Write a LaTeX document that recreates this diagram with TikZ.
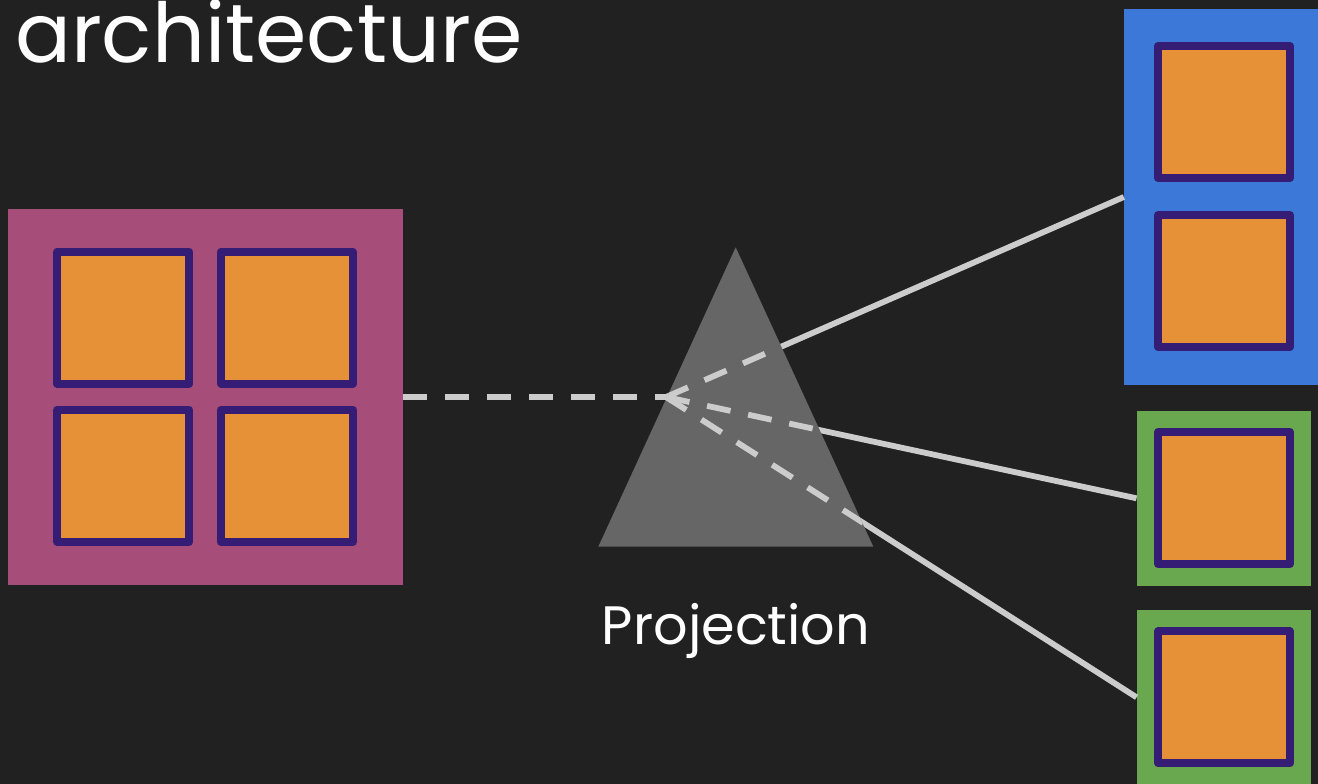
\documentclass[tikz,border=0pt]{standalone}
\usepackage{fontspec}
\setmainfont{Poppins}
\definecolor{bgc}{HTML}{212121}
\definecolor{pinkc}{HTML}{A64D79}
\definecolor{orangec}{HTML}{E69138}
\definecolor{purplec}{HTML}{351C75}
\definecolor{bluec}{HTML}{3C78D8}
\definecolor{greenc}{HTML}{6AA84F}
\definecolor{prismc}{HTML}{666666}
\definecolor{rayc}{HTML}{CCCCCC}
\tikzset{
  panel/.style={rectangle, inner sep=0pt, draw=none},
  cell/.style={rectangle, inner sep=0pt, draw=purplec, fill=orangec, line width=8pt, line join=round, minimum size=132pt},
  ray/.style={draw=rayc, line width=5.8pt, line cap=butt},
  raydash/.style={ray, dash pattern=on 24pt off 18pt},
  label/.style={text=white, inner sep=0pt}
}
\begin{document}
\begin{tikzpicture}[x=1pt,y=-1pt]
\useasboundingbox (0,0) rectangle (1318,784);
\fill[bgc] (0,0) rectangle (1318,784);
\begin{scope}
\clip (0,0) rectangle (1318,784);
% input panel
\node[panel, fill=pinkc, minimum width=395pt, minimum height=376pt] (in) at (205.5,397) {};
\node[cell] (c11) at (123.3,317.7) {};
\node[cell] (c12) at (287,317.7) {};
\node[cell] (c21) at (123.3,475.8) {};
\node[cell] (c22) at (287,475.8) {};
% output panels
\node[panel, fill=bluec, minimum width=200pt, minimum height=376pt] (out1) at (1224,197) {};
\node[cell] (b1) at (1224,112) {};
\node[cell] (b2) at (1224,281.3) {};
\node[panel, fill=greenc, minimum width=174.3pt, minimum height=174.7pt] (out2) at (1223.9,498.3) {};
\node[cell] (g1) at (1224,498) {};
\node[panel, fill=greenc, minimum width=174.3pt, minimum height=174.7pt] (out3) at (1223.9,697.3) {};
\node[cell] (g2) at (1224,697.3) {};
% rays
\coordinate (P) at (666,397);
\draw[raydash] (in.east) -- (P);
\draw[ray] (P) -- (out1.west);
\draw[ray] (P) -- (out2.west);
\draw[ray] (P) -- (out3.west);
% prism
\coordinate (A) at (735.7,247.3);
\coordinate (B) at (598.3,546.7);
\coordinate (C) at (873.3,546.7);
\fill[prismc] (A) -- (B) -- (C) -- cycle;
\begin{scope}
\clip (A) -- (B) -- (C) -- cycle;
\draw[raydash] (P) -- (out1.west);
\draw[raydash] (P) -- (out2.west);
\draw[raydash] (P) -- (out3.west);
\end{scope}
\draw[raydash] (in.east) -- (P);
% labels
\node[label, anchor=base west] (title) at (15,63) {\resizebox{507pt}{!}{architecture}};
\node[label, anchor=base] (proj) at (736,644) {\resizebox{268pt}{!}{Projection}};
\end{scope}
\end{tikzpicture}
\end{document}
